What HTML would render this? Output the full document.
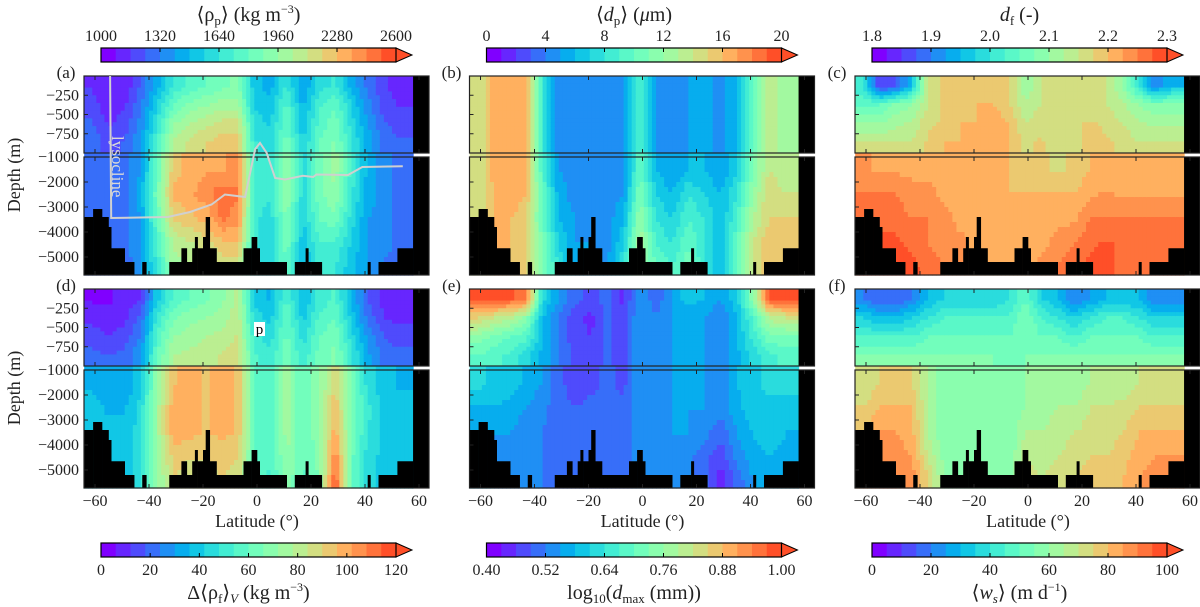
<!DOCTYPE html>
<html><head><meta charset="utf-8"><style>
html,body{margin:0;padding:0;background:#fff;}
svg{display:block;font-family:"Liberation Serif",serif;}
</style></head><body>
<svg id="fig" width="1200" height="607" viewBox="0 0 1200 607" xmlns="http://www.w3.org/2000/svg"></svg>
<script>
// ---------- data ----------
const latCenters=[-61,-55,-49,-43,-37,-31,-25,-19,-13,-7,-1,5,11,17,23,29,35,41,47,53];
const depthCenters=[125,375,625,875,1500,2500,3500,4500,5400];
const rhoP=[
[1150,1080,1100,1250,1450,1650,1750,1800,1850,1900,1500,1450,1650,1400,1600,1650,1450,1300,1180,1100],
[1200,1100,1150,1300,1550,1800,1900,1950,2000,2000,1550,1500,1750,1450,1700,1800,1550,1350,1200,1150],
[1250,1150,1200,1350,1650,1950,2050,2100,2150,2150,1600,1550,1800,1500,1750,1850,1600,1400,1250,1200],
[1300,1200,1250,1400,1700,2050,2150,2200,2250,2250,1650,1600,1850,1550,1800,1900,1650,1450,1300,1250],
[1300,1250,1300,1400,1800,2250,2300,2350,2350,2400,1700,1650,1950,1600,1850,2000,1700,1450,1350,1300],
[1300,1250,1300,1450,1850,2300,2350,2400,2500,2450,1700,1650,1950,1600,1850,1950,1650,1450,1350,1300],
[1300,1250,1300,1400,1800,2200,2250,2300,2450,2400,1650,1600,1900,1550,1800,1850,1600,1400,1350,1300],
[1300,1250,1300,1400,1700,2050,2100,2150,2250,2250,1650,1600,1850,1500,1700,1700,1550,1400,1350,1300],
[1300,1250,1250,1400,1650,2000,2050,2100,2150,2150,1600,1550,1800,1450,1650,1650,1500,1400,1300,1300]];
const dP=[
[14,16.5,17,16,8,4.5,4.5,4.5,4.5,4.5,9,5,4.5,5,5.5,4.5,6,10,14,12],
[14,16.5,17,16,8,4.5,4.5,4.5,4.5,4.5,9,5,4.5,5,5.5,4.5,6,10,14,12],
[14,16.5,17,16,8,4.5,4.5,4.5,4.5,4.5,9,5,4.5,5,5.5,4.5,6,10,14,12],
[14,16.5,17,16,8,4.5,4.5,4.5,4.5,4.5,9,5,4.5,5,5.5,4.5,6,10,14,12],
[14,16.5,17,16,9,5,4.5,4.5,4.5,4.5,10,6,5,6,6,5,7,11,14,13],
[14,16,17,16,10,5.5,4.5,4.5,4.5,5,11,7,6,8,7,6,8,12,15,14],
[14,16,16,15,10,6,5,4.5,4.5,6,12,8,7,9,8,6,9,13,15,15],
[14,16,16,15,11,7,5,5,4.5,7,13,9,8,10,8,6,10,14,16,15],
[14,16,16,15,11,8,6,5,5,8,13,10,9,11,8,6,10,14,16,15]];
const dF=[
[2.0,1.85,1.87,1.95,2.15,2.18,2.18,2.18,2.18,2.18,2.1,2.15,2.15,2.15,2.15,2.15,2.1,2.0,1.9,1.95],
[2.05,2.05,2.08,2.1,2.15,2.18,2.18,2.2,2.2,2.18,2.13,2.15,2.15,2.15,2.15,2.15,2.13,2.1,2.08,2.08],
[2.1,2.1,2.12,2.13,2.17,2.18,2.2,2.2,2.22,2.2,2.15,2.17,2.15,2.17,2.18,2.17,2.15,2.13,2.12,2.12],
[2.15,2.15,2.15,2.15,2.18,2.2,2.2,2.2,2.22,2.2,2.17,2.18,2.15,2.17,2.18,2.18,2.17,2.15,2.15,2.15],
[2.23,2.22,2.22,2.22,2.22,2.22,2.22,2.22,2.2,2.2,2.18,2.18,2.17,2.18,2.2,2.2,2.2,2.2,2.2,2.2],
[2.25,2.25,2.25,2.23,2.23,2.22,2.22,2.22,2.22,2.2,2.2,2.2,2.2,2.2,2.22,2.23,2.22,2.22,2.22,2.22],
[2.27,2.27,2.27,2.25,2.25,2.23,2.22,2.22,2.22,2.22,2.2,2.22,2.22,2.22,2.25,2.25,2.25,2.25,2.25,2.25],
[2.28,2.28,2.28,2.27,2.25,2.23,2.23,2.22,2.22,2.22,2.22,2.22,2.23,2.25,2.27,2.28,2.27,2.25,2.25,2.25],
[2.28,2.28,2.28,2.28,2.27,2.25,2.23,2.22,2.22,2.22,2.22,2.23,2.25,2.27,2.28,2.28,2.27,2.27,2.27,2.27]];
const dRhoF=[
[5,5,8,12,40,55,60,65,70,80,40,35,55,35,50,55,35,18,10,8],
[10,8,10,20,50,65,70,72,75,82,45,40,60,40,55,60,40,22,12,10],
[15,12,15,25,55,72,75,78,80,85,50,45,62,45,60,65,45,28,18,15],
[20,18,20,30,60,78,80,82,85,88,55,50,65,50,62,68,50,32,22,20],
[35,30,30,40,70,95,98,95,98,95,60,55,75,60,70,90,65,45,38,35],
[38,35,35,45,75,100,100,95,100,95,60,55,75,60,70,95,65,50,40,38],
[40,38,38,45,75,100,98,95,98,95,60,55,75,60,70,100,65,48,40,40],
[40,40,40,45,72,92,90,90,92,90,60,55,72,60,68,108,62,45,40,40],
[40,40,40,45,70,90,88,88,90,88,58,52,70,58,66,115,60,45,40,40]];
const logDmax=[
[0.98,0.98,0.98,0.95,0.62,0.55,0.5,0.48,0.5,0.45,0.55,0.5,0.55,0.6,0.58,0.55,0.6,0.75,0.98,0.98],
[0.85,0.82,0.8,0.75,0.58,0.52,0.47,0.45,0.5,0.47,0.55,0.52,0.55,0.55,0.55,0.52,0.58,0.68,0.8,0.82],
[0.75,0.72,0.7,0.68,0.58,0.52,0.47,0.46,0.5,0.47,0.55,0.52,0.55,0.55,0.55,0.52,0.58,0.65,0.72,0.72],
[0.7,0.68,0.66,0.62,0.57,0.52,0.48,0.47,0.5,0.47,0.55,0.52,0.55,0.55,0.55,0.52,0.57,0.62,0.66,0.68],
[0.62,0.6,0.6,0.57,0.55,0.5,0.47,0.48,0.5,0.48,0.55,0.53,0.55,0.55,0.55,0.53,0.58,0.6,0.62,0.62],
[0.58,0.58,0.57,0.55,0.53,0.5,0.49,0.5,0.5,0.5,0.55,0.53,0.55,0.55,0.55,0.53,0.57,0.6,0.6,0.6],
[0.55,0.55,0.55,0.53,0.52,0.5,0.5,0.5,0.5,0.5,0.55,0.53,0.55,0.55,0.53,0.5,0.55,0.58,0.6,0.58],
[0.55,0.55,0.53,0.52,0.52,0.5,0.5,0.5,0.5,0.5,0.55,0.53,0.55,0.53,0.5,0.47,0.53,0.57,0.58,0.57],
[0.55,0.55,0.53,0.52,0.52,0.5,0.5,0.5,0.5,0.5,0.55,0.53,0.55,0.53,0.5,0.44,0.5,0.55,0.57,0.55]];
const wS=[
[20,15,15,20,30,35,35,35,35,40,50,35,30,20,25,30,30,30,20,20],
[35,30,30,35,40,45,45,45,45,45,55,45,40,35,40,45,45,40,35,35],
[45,45,45,45,50,50,50,50,50,50,55,50,50,45,50,50,50,50,45,45],
[55,55,55,55,55,55,55,55,55,50,55,55,55,55,55,55,55,55,55,55],
[70,75,75,75,65,55,55,55,55,55,60,60,60,60,65,65,65,70,70,70],
[75,80,80,80,65,55,55,55,55,55,60,62,65,65,70,70,72,75,75,75],
[80,85,85,82,65,55,55,55,55,55,65,65,68,70,72,72,75,80,80,80],
[85,88,88,85,70,58,55,55,55,55,70,68,70,72,75,75,78,82,85,85],
[85,90,90,88,75,60,55,55,55,55,72,70,72,75,78,78,80,85,88,88]];
const bathyEdges=[-64,-60.7,-57.4,-55,-54,-49,-45.5,-42.5,-41,-32.5,-28,-26,-24,-23,-22,-20,-19,-17.5,-15,-5,-2,0,1,11,14,18,19,24,41,42,45,52,57.8];
const bathyDepth=[3400,3080,3400,3800,4650,5200,0,5200,0,5200,4650,5200,4650,4200,4650,4200,3400,4650,5200,4650,4200,4650,5200,0,5200,4650,5200,0,5200,0,5200,4650];
const lysoLat=[-54.4,-54,-33,-24.8,-16.8,-11.9,-4.4,-0.7,1.1,3.6,6.7,10.4,17,20.8,22,33.7,39,54];
const lysoDepth=[0,3440,3400,3200,2900,2500,2600,950,870,1000,1840,1900,1750,1800,1700,1720,1400,1370];
const xTicks=[-60,-40,-20,0,20,40,60];
const yTicksUpper=[250,500,750];
const yTicksLower=[2000,3000,4000,5000];
const cbTicksA=["1000","1320","1640","1960","2280","2600"];
const cbTicksB=["0","4","8","12","16","20"];
const cbTicksC=["1.8","1.9","2.0","2.1","2.2","2.3"];
const cbTicksD=["0","20","40","60","80","100","120"];
const cbTicksE=["0.40","0.52","0.64","0.76","0.88","1.00"];
const cbTicksF=["0","20","40","60","80","100"];

// ---------- helpers ----------
const NS="http://www.w3.org/2000/svg";
const svg=document.getElementById('fig');
function mk(tag,attrs,parent){const e=document.createElementNS(NS,tag);for(const k in attrs)e.setAttribute(k,attrs[k]);(parent||svg).appendChild(e);return e;}
function color(k){const x=0.9*k/19;const c=v=>Math.round(255*Math.max(0,Math.min(1,v)));
 return `rgb(${c(Math.abs(2*x-0.5))},${c(Math.sin(Math.PI*x))},${c(Math.cos(Math.PI*x/2))})`;}
function level(v,vmin,vmax){return Math.max(0,Math.min(19,Math.floor((v-vmin)/(vmax-vmin)*20)));}
const colX=[84,469.5,855];const rowOff=[0,213];
function xOf(col,lat){return colX[col]+11+(lat+60)*2.7;}
function yOf(row,d){return rowOff[row]+(d<=1000?76+d*0.077:157+(d-1000)*(118/4720));}
function interp(data,lat,d){
 let li=(lat-latCenters[0])/6;li=Math.max(0,Math.min(latCenters.length-1,li));
 const l0=Math.floor(li),l1=Math.min(latCenters.length-1,l0+1),lf=li-l0;
 const rows=d<=1000?[0,1,2,3]:[4,5,6,7,8];
 let r0=rows[0],r1=rows[0],rf=0;
 if(d<=depthCenters[rows[0]]){r0=r1=rows[0];}
 else if(d>=depthCenters[rows[rows.length-1]]){r0=r1=rows[rows.length-1];}
 else{for(let i=0;i<rows.length-1;i++){const a=depthCenters[rows[i]],b=depthCenters[rows[i+1]];if(d>=a&&d<=b){r0=rows[i];r1=rows[i+1];rf=(d-a)/(b-a);}}}
 const v=(r)=>data[r][l0]*(1-lf)+data[r][l1]*lf;
 return v(r0)*(1-rf)+v(r1)*rf;
}
function panel(col,row,data,vmin,vmax,name){
 const g=mk('g',{});
 
 
 const x0=colX[col],x1=x0+345;
 for(let lat=-64;lat<57.8;lat+=1.5){
  const la1=Math.min(57.8,lat+1.5);
  const segs=[[0,1000,50],[1000,5720,200]];
  for(const [a,b,st] of segs){
   for(let d=a;d<b;d+=st){
    const d1=Math.min(b,d+st);
    const v=interp(data,(lat+la1)/2,(d+d1)/2);
    const xa=xOf(col,lat),xb=xOf(col,la1),ya=yOf(row,d),yb=yOf(row,d1);
    mk('rect',{x:xa.toFixed(2),y:ya.toFixed(2),width:(xb-xa+0.6).toFixed(2),height:(yb-ya+0.6).toFixed(2),fill:color(level(v,vmin,vmax))},g);
   }
  }
 }
 for(let i=0;i<bathyDepth.length;i++){
  if(!bathyDepth[i])continue;
  const xa=xOf(col,bathyEdges[i]),xb=xOf(col,bathyEdges[i+1]);
  const r=mk('rect',{x:xa,y:yOf(row,bathyDepth[i]),width:xb-xa+0.3,height:yOf(row,5720)-yOf(row,bathyDepth[i]),fill:'#000'},g);
  
  
 }
 const xs=xOf(col,57.8);
 mk('rect',{x:xs,y:yOf(row,0),width:x1-xs,height:yOf(row,1000)-yOf(row,0),fill:'#000'},g);
 mk('rect',{x:xs,y:yOf(row,1000.01),width:x1-xs,height:yOf(row,5720)-yOf(row,1000.01),fill:'#000'},g);
 for(const [a,b] of [[0,1000],[1000.01,5720]]){
  const ya=yOf(row,a),yb=yOf(row,b);
  mk('rect',{x:x0,y:ya,width:345,height:yb-ya,fill:'none',stroke:'#222','stroke-width':1.2},g);
  for(const t of xTicks){const x=xOf(col,t);
   mk('line',{x1:x,x2:x,y1:ya,y2:ya+4,stroke:'#222','stroke-width':1},g);
   mk('line',{x1:x,x2:x,y1:yb,y2:yb-4,stroke:'#222','stroke-width':1},g);}
 }
 for(const t of yTicksUpper.concat(yTicksLower)){const y=yOf(row,t);
  mk('line',{x1:x0,x2:x0+4,y1:y,y2:y,stroke:'#222','stroke-width':1},g);}
 return g;
}
function txt(x,y,s,opt){const t=mk('text',Object.assign({x:x,y:y,'font-size':16,'text-anchor':'middle',fill:'#222'},opt||{}));t.innerHTML=s;return t;}

const specs=[[0,0,rhoP,1000,2600,'panel-a-particle-density'],[1,0,dP,0,20,'panel-b-particle-diameter'],[2,0,dF,1.8,2.3,'panel-c-fractal-dimension'],
[0,1,dRhoF,0,120,'panel-d-floc-density-excess'],[1,1,logDmax,0.4,1.0,'panel-e-max-diameter'],[2,1,wS,0,100,'panel-f-settling-velocity']];
specs.forEach(s=>panel(s[0],s[1],s[2],s[3],s[4],s[5]));

const lp=lysoLat.map((l,i)=>xOf(0,l).toFixed(1)+','+yOf(0,lysoDepth[i]).toFixed(1)).join(' ');
const ly=mk('polyline',{points:lp,fill:'none',stroke:'#d0d0d0','stroke-width':2});


const lt=txt(0,0,'lysocline',{'font-size':17,fill:'#d8d8d8','text-anchor':'start',transform:'translate(112,136) rotate(90)'});



mk('rect',{x:254,y:322,width:11,height:14,fill:'#fff'});
const pl=txt(259.5,334,'p',{'font-size':15,fill:'#000'});



['(a)','(b)','(c)','(d)','(e)','(f)'].forEach((s,i)=>{const c=i%3,r=Math.floor(i/3);
 const t=txt(colX[c]-18,rowOff[r]+78,s,{'font-size':17});
 
 });

for(let r=0;r<2;r++){
 for(const t of [250,500,750,1000]){const l=txt(79,yOf(r,t)+(t===1000?9:5),'−'+t,{'text-anchor':'end'});
  
  }
 for(const t of yTicksLower){const l=txt(79,yOf(r,t)+5,'−'+t,{'text-anchor':'end'});
  
  }
 const yt=txt(0,0,'Depth (m)',{'font-size':18,transform:`translate(20,${rowOff[r]+175}) rotate(-90)`});
 
 
}
for(let c=0;c<3;c++){
 for(const t of xTicks){const l=txt(xOf(c,t),506,(t<0?'−':'')+Math.abs(t));
  
  }
 const xt=txt(colX[c]+173,527,'Latitude (°)',{'font-size':18});
 
 
}

function colorbar(col,top,ticks,title,name,labelAbove){
 const g=mk('g',{});
 
 
 const x0=101+[0,385.5,771][col],w=295,h=14,bw=w/20;
 for(let k=0;k<20;k++)mk('rect',{x:x0+k*bw,y:top,width:bw+0.4,height:h,fill:color(k)},g);
 mk('polygon',{points:`${x0+w},${top} ${x0+w+16},${top+h/2} ${x0+w},${top+h}`,fill:color(19),stroke:'#000','stroke-width':1},g);
 mk('rect',{x:x0,y:top,width:w,height:h,fill:'none',stroke:'#000','stroke-width':1.2},g);
 const n=ticks.length-1;
 ticks.forEach((s,i)=>{const x=x0+w*i/n;
  mk('line',{x1:x,x2:x,y1:labelAbove?top:top+h,y2:labelAbove?top+4:top+h-4,stroke:'#000','stroke-width':1},g);
  const t=txt(x,labelAbove?top-7:top+h+18,s);t.remove();g.appendChild(t);
  
  });
 const tt=txt(x0+w/2,labelAbove?top-27:top+h+42,title,{'font-size':20});
 tt.remove();g.appendChild(tt);
 
 
}
colorbar(0,48,cbTicksA,'⟨ρ<tspan font-size="13" dy="4">p</tspan><tspan dy="-4">⟩ (kg m</tspan><tspan font-size="12" dy="-8">−3</tspan><tspan dy="8">)</tspan>','colorbar-particle-density',true);
colorbar(1,48,cbTicksB,'⟨<tspan font-style="italic">d</tspan><tspan font-size="13" dy="4">p</tspan><tspan dy="-4">⟩ (</tspan><tspan font-style="italic">μ</tspan>m)','colorbar-particle-diameter',true);
colorbar(2,48,cbTicksC,'<tspan font-style="italic">d</tspan><tspan font-size="13" dy="4">f</tspan><tspan dy="-4"> (-)</tspan>','colorbar-fractal-dimension',true);
colorbar(0,543,cbTicksD,'Δ⟨ρ<tspan font-size="13" dy="4">f</tspan><tspan dy="-4">⟩</tspan><tspan font-size="13" font-style="italic" dy="4">V</tspan><tspan dy="-4"> (kg m</tspan><tspan font-size="12" dy="-8">−3</tspan><tspan dy="8">)</tspan>','colorbar-floc-density-excess',false);
colorbar(1,543,cbTicksE,'log<tspan font-size="13" dy="4">10</tspan><tspan dy="-4">(</tspan><tspan font-style="italic">d</tspan><tspan font-size="13" dy="4">max</tspan><tspan dy="-4"> (mm))</tspan>','colorbar-max-diameter',false);
colorbar(2,543,cbTicksF,'⟨<tspan font-style="italic">w</tspan><tspan font-size="13" font-style="italic" dy="4">s</tspan><tspan dy="-4">⟩ (m d</tspan><tspan font-size="12" dy="-8">−1</tspan><tspan dy="8">)</tspan>','colorbar-settling-velocity',false);
</script>
</body></html>
